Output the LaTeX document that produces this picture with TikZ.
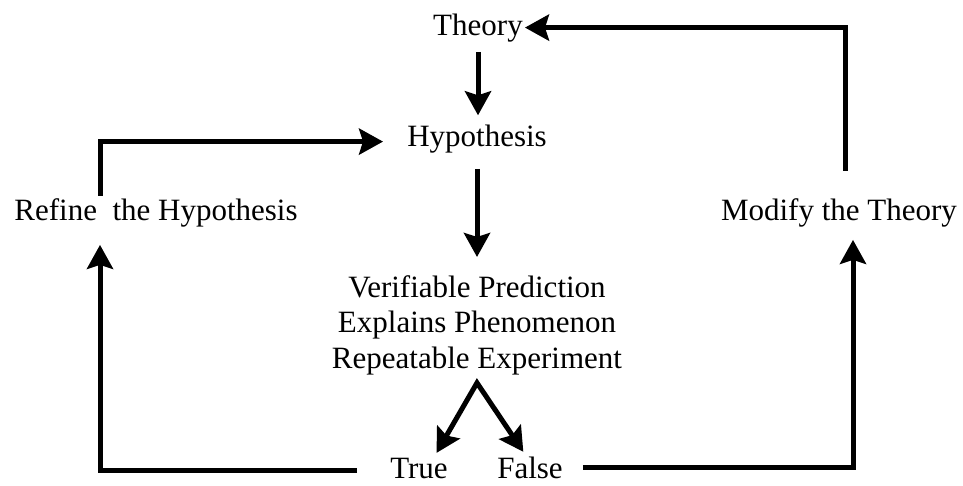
\documentclass[tikz,border=0pt]{standalone}
\usepackage{fontspec}
\setmainfont{Liberation Serif}
\usepackage{xcolor,tikz}
\usetikzlibrary{arrows.meta,positioning}
\definecolor{ink}{HTML}{000000}

\begin{document}
\begin{tikzpicture}[x=1pt,y=-1pt,>={Stealth[length=24pt,width=26pt,inset=4pt]},
  lbl/.style={font=\fontsize{31}{35.5}\selectfont,color=ink,inner xsep=2pt,inner ysep=2pt},
  flow/.style={->,line width=5pt,color=ink}]
\useasboundingbox (0,0) rectangle (963,485);
% text of the loop
\node[lbl,anchor=base] (theory) at (478,35) {Theory};
\node[lbl,anchor=base] (hyp) at (477,146) {Hypothesis};
\node[lbl,align=center,anchor=north] (pred) at (477,273) {Verifiable Prediction\\Explains Phenomenon\\Repeatable Experiment};
\node[lbl,anchor=base] (true) at (419,478) {True};
\node[lbl,anchor=base] (false) at (530,478) {False};
\node[lbl,anchor=base] (refine) at (156,220) {Refine\ \ the Hypothesis};
\node[lbl,anchor=base] (modify) at (839,220) {Modify the Theory};
\coordinate (fork) at ([yshift=-6pt]pred.south);
% connectors
\draw[flow,shorten <=8pt,shorten >=7pt] (theory.south) -- (theory.south |- hyp.north);
\draw[flow,shorten <=14pt,shorten >=16pt] (hyp.south) -- (hyp.south |- pred.north);
\draw[flow,<->,line join=miter,shorten <=3pt,shorten >=3pt] ([xshift=16pt]true.north) -- (fork) -- ([xshift=-5pt]false.north);
\draw[flow,shorten <=31pt,shorten >=16pt] ([yshift=-2pt]true.west) -| ([xshift=-56pt]refine.south);
\draw[flow,shorten >=22pt] ([xshift=-56pt]refine.north) |- ([yshift=-3pt]hyp.west);
\draw[flow,shorten <=18pt,shorten >=11pt] (false.east) -| ([xshift=14pt]modify.south);
\draw[flow,shorten <=25pt] ([xshift=6pt]modify.north) |- (theory.east);
\end{tikzpicture}
\end{document}
